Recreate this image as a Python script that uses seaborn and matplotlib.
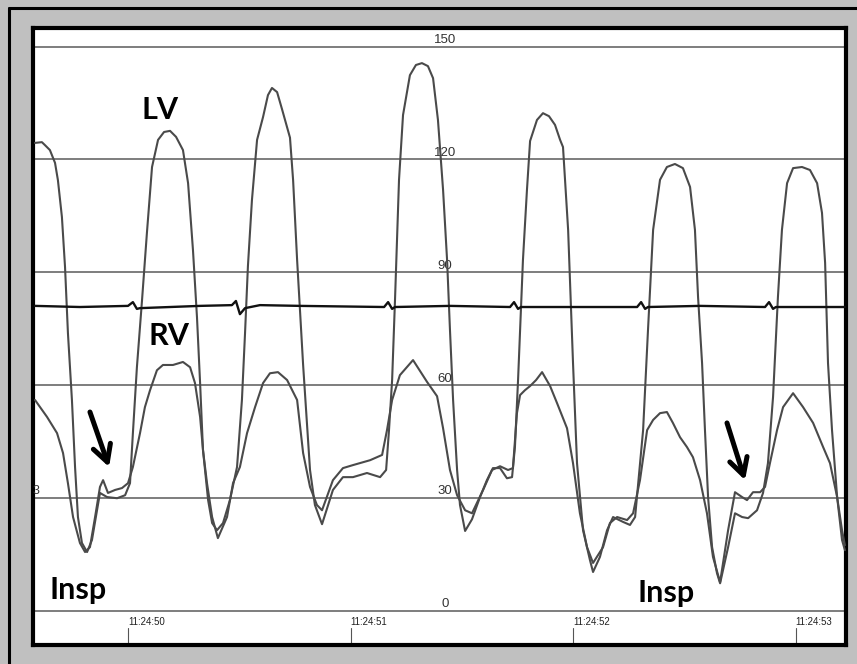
import pandas as pd
import matplotlib
matplotlib.use("Agg")
import matplotlib.pyplot as plt
from matplotlib.lines import Line2D
import seaborn as sns

# tempo em segundos apos 11:24:49, pressao em mmHg
lv_t = [0.582, 0.613, 0.627, 0.649, 0.672, 0.685, 0.703, 0.717, 0.730, 0.748, 0.762, 0.775,
        0.793, 0.816, 0.838, 0.861, 0.874, 0.906, 0.951, 0.987, 1.009, 1.022, 1.040, 1.063,
        1.085, 1.108, 1.135, 1.162, 1.189, 1.216, 1.247, 1.270, 1.292, 1.310, 1.324, 1.337,
        1.360, 1.378, 1.400, 1.427, 1.458, 1.490, 1.512, 1.526, 1.539, 1.557, 1.580, 1.607,
        1.629, 1.647, 1.670, 1.692, 1.728, 1.742, 1.760, 1.787, 1.818, 1.840, 1.872, 1.921,
        1.966, 2.011, 2.074, 2.133, 2.160, 2.173, 2.187, 2.200, 2.218, 2.236, 2.267, 2.294,
        2.321, 2.348, 2.371, 2.393, 2.416, 2.434, 2.447, 2.461, 2.479, 2.492, 2.515, 2.546,
        2.582, 2.613, 2.640, 2.672, 2.703, 2.726, 2.739, 2.753, 2.775, 2.793, 2.807, 2.838,
        2.865, 2.892, 2.919, 2.942, 2.955, 2.978, 3.000, 3.018, 3.045, 3.076, 3.090, 3.121,
        3.153, 3.180, 3.225, 3.256, 3.279, 3.301, 3.315, 3.337, 3.360, 3.391, 3.422, 3.458,
        3.494, 3.526, 3.548, 3.562, 3.580, 3.593, 3.607, 3.625, 3.647, 3.661, 3.697, 3.728,
        3.760, 3.787, 3.827, 3.854, 3.876, 3.899, 3.921, 3.939, 3.962, 3.989, 4.029, 4.065,
        4.097, 4.119, 4.133, 4.146, 4.164, 4.187, 4.209, 4.222]
lv_p = [124.4, 124.6, 123.8, 122.5, 119.1, 114.5, 104.7, 91.4, 73.9, 56.1, 38.3, 25.0,
        18.1, 15.7, 18.9, 26.8, 31.4, 30.3, 30.0, 30.8, 34.0, 47.3, 64.8, 82.6,
        100.5, 118.0, 125.2, 127.3, 127.6, 126.0, 122.5, 113.7, 95.9, 78.1, 60.6, 42.8,
        29.5, 23.4, 21.5, 23.4, 29.5, 38.3, 56.1, 73.9, 91.7, 109.2, 125.2, 131.3,
        137.1, 139.0, 137.9, 133.4, 125.8, 114.5, 93.3, 65.4, 37.5, 28.2, 23.1, 32.2,
        35.6, 35.6, 36.7, 35.6, 37.5, 48.1, 61.4, 82.7, 114.6, 131.8, 142.4, 145.1,
        145.6, 144.8, 141.6, 130.5, 111.9, 93.3, 74.7, 56.1, 37.5, 28.2, 21.3, 24.4,
        30.3, 34.8, 38.0, 38.0, 35.3, 35.6, 43.6, 61.4, 93.3, 111.9, 124.9, 130.5,
        132.3, 131.5, 129.2, 125.2, 123.3, 101.3, 65.9, 39.3, 21.5, 13.6, 10.4, 14.4,
        21.5, 25.0, 23.7, 22.9, 25.0, 39.3, 48.1, 74.7, 101.3, 114.6, 118.0, 118.8,
        117.7, 112.7, 101.3, 83.4, 65.9, 48.1, 30.3, 17.0, 10.1, 7.4, 17.0, 26.0,
        25.0, 24.7, 26.8, 31.4, 39.3, 56.9, 83.5, 101.3, 113.7, 117.7, 118.0, 117.2,
        113.7, 105.8, 92.5, 65.9, 48.1, 30.3, 18.9, 16.2]

rv_t = [0.582, 0.636, 0.681, 0.708, 0.730, 0.753, 0.784, 0.807, 0.829, 0.852, 0.874, 0.888,
        0.910, 0.942, 0.973, 1.000, 1.022, 1.054, 1.076, 1.099, 1.130, 1.157, 1.202, 1.247,
        1.279, 1.301, 1.324, 1.337, 1.355, 1.378, 1.404, 1.445, 1.472, 1.503, 1.535, 1.571,
        1.607, 1.638, 1.674, 1.715, 1.760, 1.787, 1.818, 1.849, 1.872, 1.921, 1.966, 2.011,
        2.088, 2.142, 2.164, 2.187, 2.222, 2.281, 2.344, 2.389, 2.416, 2.447, 2.479, 2.515,
        2.546, 2.596, 2.636, 2.672, 2.708, 2.730, 2.748, 2.762, 2.784, 2.807, 2.834, 2.861,
        2.897, 2.928, 2.973, 3.000, 3.031, 3.063, 3.090, 3.135, 3.166, 3.198, 3.243, 3.270,
        3.301, 3.333, 3.360, 3.391, 3.422, 3.449, 3.481, 3.512, 3.539, 3.571, 3.602, 3.629,
        3.661, 3.697, 3.728, 3.760, 3.782, 3.809, 3.841, 3.863, 3.885, 3.917, 3.944, 3.989,
        4.034, 4.079, 4.124, 4.155, 4.187, 4.209, 4.222]
rv_p = [56.1, 51.6, 47.3, 42.0, 34.0, 25.0, 18.1, 15.7, 17.0, 25.0, 33.0, 34.8,
        31.4, 32.2, 32.7, 34.0, 38.3, 47.3, 54.2, 58.7, 64.0, 65.4, 65.4, 66.2,
        64.8, 60.6, 51.6, 42.8, 34.0, 25.0, 19.4, 25.0, 34.0, 38.3, 47.3, 54.2,
        60.6, 63.2, 63.5, 61.4, 56.1, 42.0, 33.0, 28.2, 26.8, 34.8, 38.0, 38.8,
        40.1, 41.5, 48.1, 56.1, 62.7, 66.7, 60.9, 57.1, 48.6, 37.5, 30.8, 26.8,
        26.0, 32.2, 37.5, 38.5, 37.5, 38.0, 52.6, 57.4, 58.7, 59.8, 61.4, 63.5,
        59.8, 55.3, 48.6, 39.3, 26.0, 17.0, 12.8, 17.0, 23.4, 25.0, 24.2, 26.0,
        34.8, 48.1, 50.8, 52.6, 52.9, 50.0, 46.2, 43.6, 40.9, 34.8, 26.0, 14.4,
        7.7, 21.5, 31.6, 30.3, 29.5, 31.6, 31.6, 33.0, 39.3, 48.1, 54.2, 57.9,
        54.2, 50.0, 43.6, 39.3, 30.3, 21.5, 17.5]

ecg_t = [0.582, 0.784, 1.000, 1.022, 1.040, 1.054, 1.324, 1.467, 1.485, 1.503, 1.526, 1.593,
         1.773, 2.151, 2.169, 2.187, 2.200, 2.447, 2.717, 2.735, 2.753, 2.766, 3.031, 3.288,
         3.306, 3.324, 3.337, 3.571, 3.863, 3.881, 3.899, 3.912, 4.222]
ecg_p = [81.1, 80.8, 81.1, 82.1, 80.3, 80.5, 81.1, 81.3, 82.4, 78.9, 80.5, 81.3,
         81.1, 80.8, 82.1, 80.3, 80.8, 81.1, 80.8, 82.1, 80.3, 80.8, 80.8, 80.8,
         82.1, 80.3, 80.8, 81.1, 80.8, 82.1, 80.3, 80.8, 80.8]

niveis = [0, 30, 60, 90, 120, 150]
tempos = [1, 2, 3, 4]
rotulos_tempo = ["11:24:50", "11:24:51", "11:24:52", "11:24:53"]

df_lv = pd.DataFrame({"t": lv_t, "p": lv_p})
df_rv = pd.DataFrame({"t": rv_t, "p": rv_p})
df_ecg = pd.DataFrame({"t": ecg_t, "p": ecg_p})

sns.set_style("white")
plt.rcParams["font.family"] = ["Liberation Sans", "DejaVu Sans"]

fig = plt.figure(figsize=(8.57, 6.64), dpi=100, facecolor="#c0c0c0")
ax = fig.add_axes([0.0385, 0.0286, 0.9487, 0.9285])
ax.set_facecolor("white")

# moldura externa (topo e esquerda)
fig.add_artist(Line2D([8.5 / 857, 1.0], [1 - 7.5 / 664, 1 - 7.5 / 664],
                      transform=fig.transFigure, color="black", lw=2.2))
fig.add_artist(Line2D([8.5 / 857, 8.5 / 857], [0.0, 1 - 7.5 / 664],
                      transform=fig.transFigure, color="black", lw=2.2))

for n in niveis:
    ax.axhline(n, color="#5a5a5a", lw=1.1, zorder=1)
    ax.text(2.425, n + 0.2, str(n), ha="center", va="bottom", fontsize=9.5,
            color="#333333", zorder=1)

sns.lineplot(data=df_lv, x="t", y="p", sort=False, estimator=None, ax=ax,
             color="#4a4a4a", lw=1.5, zorder=3)
sns.lineplot(data=df_rv, x="t", y="p", sort=False, estimator=None, ax=ax,
             color="#4a4a4a", lw=1.5, zorder=3)
sns.lineplot(data=df_ecg, x="t", y="p", sort=False, estimator=None, ax=ax,
             color="#111111", lw=1.7, zorder=4)

# eixo de tempo
for tt, rot in zip(tempos, rotulos_tempo):
    ax.plot([tt, tt], [-9, -4.5], color="#555555", lw=0.8)
    ax.text(tt, -4.3, rot, ha="left", va="bottom", fontsize=7, color="#222222")

# resto de um rotulo cortado na borda esquerda
ax.text(0.586, 32.0, "3", ha="center", va="center", fontsize=9, color="#333333", clip_on=True)

rotulo = dict(fontsize=22, fontweight="bold", color="black", family=["Lato", "DejaVu Sans"])
ax.text(1.144, 133.1, "LV", ha="center", va="center", **rotulo)
ax.text(1.184, 73.1, "RV", ha="center", va="center", **rotulo)
ax.text(0.649, 3.2, "Insp", ha="left", va="baseline", **rotulo)
ax.text(3.292, 2.4, "Insp", ha="left", va="baseline", **rotulo)

seta = dict(arrowstyle="->, head_length=1.2, head_width=0.65", color="black", lw=3.6,
            shrinkA=0, shrinkB=0)
ax.annotate("", xy=(0.915, 38.3), xytext=(0.829, 52.9), arrowprops=seta)
ax.annotate("", xy=(3.773, 34.8), xytext=(3.692, 50.0), arrowprops=seta)

ax.set_xlim(0.573, 4.227)
ax.set_ylim(-9.0, 154.8)
ax.set_xticks([])
ax.set_yticks([])
ax.set_xlabel("")
ax.set_ylabel("")
for s in ax.spines.values():
    s.set_color("black")
    s.set_linewidth(3.0)

fig.savefig("out.png", dpi=100, facecolor=fig.get_facecolor())
